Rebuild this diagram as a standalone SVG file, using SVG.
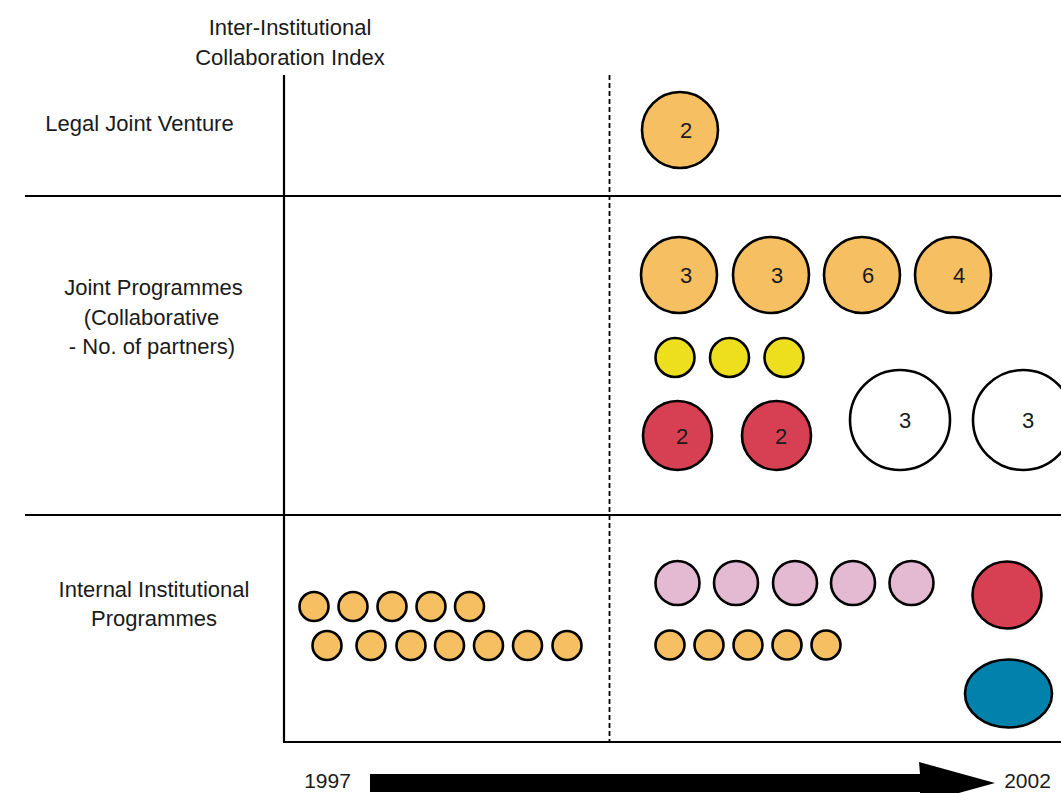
<svg xmlns="http://www.w3.org/2000/svg" width="1061" height="793" viewBox="0 0 1061 793">
<style>
text{font-family:"Liberation Sans",Arial,sans-serif;font-size:22px;fill:#1a1a1a;text-anchor:middle}
.yr{font-size:21px}
.n{stroke:#000;stroke-width:2.6}
.or{fill:#F5BF62}.ye{fill:#EEDF1E}.rd{fill:#D64052}.wh{fill:#fff}.pk{fill:#E4B9D2}.bl{fill:#0082AC}
.ax{stroke:#000;stroke-width:2.2;fill:none}
.dash{stroke:#000;stroke-width:1.8;stroke-dasharray:5,3;fill:none}
</style>
<rect width="1061" height="793" fill="#fff"/>
<g id="axes">
<line class="ax" x1="284" y1="75" x2="284" y2="742"/>
<line class="ax" x1="25" y1="196" x2="1061" y2="196"/>
<line class="ax" x1="25" y1="515" x2="1061" y2="515"/>
<line class="ax" x1="283" y1="742" x2="1061" y2="742"/>
<line class="dash" x1="609.5" y1="75" x2="609.5" y2="742"/>
</g>
<g id="labels">
<text x="290" y="35">Inter-Institutional</text>
<text x="290" y="65">Collaboration Index</text>
<text x="139.5" y="131">Legal Joint Venture</text>
<text x="153.5" y="295">Joint Programmes</text>
<text x="151.5" y="325">(Collaborative</text>
<text x="152" y="354">- No. of partners)</text>
<text x="154" y="597">Internal Institutional</text>
<text x="154" y="626">Programmes</text>
<text class="yr" x="327.5" y="788">1997</text>
<text class="yr" x="1027.5" y="788">2002</text>
</g>
<g id="connectors">
<path d="M370,774 L920,774 L919,762 L995,783 L919,804 L920,792 L370,792 Z" fill="#000"/>
</g>
<g id="legal-jv"><circle class="n or" cx="680" cy="130" r="38"/><text x="686" y="138">2</text></g>
<g id="jp-orange">
<circle class="n or" cx="679" cy="275" r="38"/><text x="686" y="283">3</text>
<circle class="n or" cx="771" cy="275" r="38"/><text x="777" y="283">3</text>
<circle class="n or" cx="862" cy="275" r="38"/><text x="868" y="283">6</text>
<circle class="n or" cx="953" cy="275" r="38"/><text x="959" y="283">4</text>
</g>
<g id="jp-yellow">
<circle class="n ye" cx="675" cy="357.5" r="19.5"/>
<circle class="n ye" cx="729.5" cy="357.5" r="19.5"/>
<circle class="n ye" cx="784" cy="357.5" r="19.5"/>
</g>
<g id="jp-red">
<circle class="n rd" cx="677.5" cy="435.5" r="34.5"/><text x="682" y="443.5">2</text>
<circle class="n rd" cx="776.5" cy="435.5" r="34.5"/><text x="781" y="443.5">2</text>
</g>
<g id="jp-white">
<circle class="n wh" cx="900" cy="420" r="50"/><text x="905" y="428">3</text>
<circle class="n wh" cx="1023" cy="420" r="50"/><text x="1028" y="428">3</text>
</g>
<g id="int-left-row1">
<circle class="n or" cx="314" cy="606.5" r="14.5"/>
<circle class="n or" cx="353" cy="606.5" r="14.5"/>
<circle class="n or" cx="392" cy="606.5" r="14.5"/>
<circle class="n or" cx="431" cy="606.5" r="14.5"/>
<circle class="n or" cx="469.5" cy="606.5" r="14.5"/>
</g>
<g id="int-left-row2">
<circle class="n or" cx="327" cy="645.5" r="14.5"/>
<circle class="n or" cx="371" cy="645.5" r="14.5"/>
<circle class="n or" cx="411" cy="645.5" r="14.5"/>
<circle class="n or" cx="449.5" cy="645.5" r="14.5"/>
<circle class="n or" cx="488.5" cy="645.5" r="14.5"/>
<circle class="n or" cx="527.5" cy="645.5" r="14.5"/>
<circle class="n or" cx="567" cy="645.5" r="14.5"/>
</g>
<g id="int-right-pink">
<circle class="n pk" cx="677.5" cy="583" r="22"/>
<circle class="n pk" cx="736" cy="583" r="22"/>
<circle class="n pk" cx="795" cy="583" r="22"/>
<circle class="n pk" cx="853" cy="583" r="22"/>
<circle class="n pk" cx="911.5" cy="583" r="22"/>
</g>
<g id="int-right-orange">
<circle class="n or" cx="670" cy="645" r="14.5"/>
<circle class="n or" cx="709" cy="645" r="14.5"/>
<circle class="n or" cx="748" cy="645" r="14.5"/>
<circle class="n or" cx="787" cy="645" r="14.5"/>
<circle class="n or" cx="826" cy="645" r="14.5"/>
</g>
<g id="int-red"><ellipse class="n rd" cx="1007" cy="595" rx="34.5" ry="33.5"/></g>
<g id="int-blue"><ellipse class="n bl" cx="1008.5" cy="693.5" rx="43.5" ry="34"/></g>
</svg>
